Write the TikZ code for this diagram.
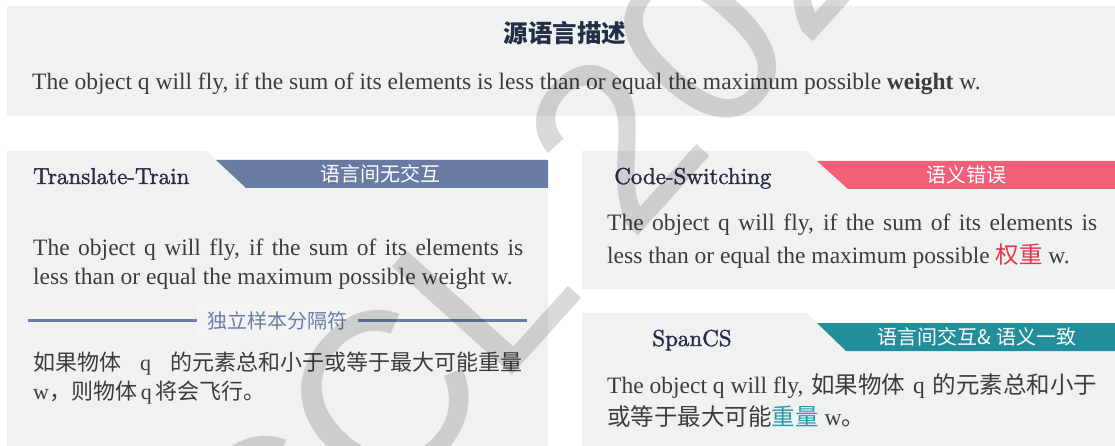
\documentclass[tikz,border=0pt]{standalone}
\usepackage{fontspec}
\usepackage{xcolor}
\newfontfamily\tnr{Liberation Serif}
\newfontfamily\cjk{Noto Sans CJK SC}
\newfontfamily\wmfont{Liberation Sans}
\newfontfamily\titlefont{lmroman10-regular.otf}[FakeBold=1.5]
\definecolor{panel}{HTML}{F0F2F2}
\definecolor{navy}{HTML}{252D47}
\definecolor{body}{HTML}{3C3C3C}
\definecolor{bandblue}{HTML}{6A7BA3}
\definecolor{bandred}{HTML}{F06079}
\definecolor{bandteal}{HTML}{228E9C}
\definecolor{errred}{HTML}{E0384F}
\definecolor{okteal}{HTML}{2A98A8}
\definecolor{sepblue}{HTML}{6C7CA6}
\tikzset{
  bodytext/.style={anchor=base west, inner sep=0pt, text=body, font=\tnr\fontsize{23.5pt}{28pt}\selectfont},
  cjktext/.style={anchor=base west, inner sep=0pt, text=body, font=\fontsize{22pt}{28pt}\selectfont},
  paneltitle/.style={inner sep=0pt, text=navy, font=\titlefont\fontsize{23pt}{26pt}\selectfont},
  bandlabel/.style={inner sep=0pt, text=white, font=\cjk\fontsize{20pt}{24pt}\selectfont},
}
\newcommand{\zh}[1]{{\cjk #1}}
\begin{document}
\begin{tikzpicture}[x=1pt,y=-1pt]
\useasboundingbox (0,0) rectangle (1115,446);
\fill[white] (0,0) rectangle (1115,446);

% top source box
\fill[panel] (7,6) rectangle (1115,116);
\node[inner sep=0pt, text=navy, font=\cjk\bfseries\fontsize{24.5pt}{28pt}\selectfont] (srctitle) at (565,33) {源语言描述};
\node[bodytext] (srctext) at (32,90) {The object q will fly, if the sum of its elements is less than or equal the maximum possible \textbf{weight} w.};

% left panel: Translate-Train
\fill[panel] (7,151) -- (207,151) -- (216,160) -- (548,160) -- (548,446) -- (7,446) -- cycle;
\fill[bandblue] (216,160) -- (548,160) -- (548,188) -- (246,188) -- cycle;
\node[paneltitle, anchor=base west] (tt) at (33,184) {Translate-Train};
\node[bandlabel] (ttband) at (380,174) {语言间无交互};
\node[bodytext] (tt1) at (33,255) {\hbox to 490pt{The object q will fly, if the sum of its elements is}};
\node[bodytext] (tt2) at (33,284) {less than or equal the maximum possible weight w.};
\fill[white, opacity=0.15] (196,304) rectangle (354,338);
\node[inner sep=0pt, text=sepblue, font=\cjk\fontsize{20pt}{24pt}\selectfont] (sep) at (277,321) {独立样本分隔符};
\coordinate (sepL) at (28,320);
\coordinate (sepLe) at (197,320);
\coordinate (sepRs) at (358,320);
\coordinate (sepR) at (527,320);
\draw[sepblue, line width=3pt] (sepL) -- (sepLe);
\draw[sepblue, line width=3pt] (sepRs) -- (sepR);
\node[cjktext] (zh1) at (33,370) {\hbox to 489pt{\zh{如果物体}\hfill{\tnr q}\hfill\zh{的元素总和小于或等于最大可能重量}}};
\node[cjktext] (zh2) at (33,399) {{\tnr w}\zh{，则物体}\,{\tnr q}\,\zh{将会飞行。}};

% right panel 1: Code-Switching
\fill[panel] (582,151) -- (807,151) -- (817,161) -- (1115,161) -- (1115,289) -- (582,289) -- cycle;
\fill[bandred] (817,161) -- (1115,161) -- (1115,189) -- (848,189) -- cycle;
\node[paneltitle, anchor=base west] (cs) at (614,184) {Code-Switching};
\node[bandlabel] (csband) at (966,175) {语义错误};
\node[bodytext] (cs1) at (607,231) {\hbox to 490pt{The object q will fly, if the sum of its elements is}};
\node[bodytext] (cs2) at (607,263) {less than or equal the maximum possible {\cjk\color{errred}权重} w.};

% right panel 2: SpanCS
\fill[panel] (582,313) -- (807,313) -- (817,323) -- (1115,323) -- (1115,446) -- (582,446) -- cycle;
\fill[bandteal] (817,323) -- (1115,323) -- (1115,351) -- (846,351) -- cycle;
\node[paneltitle, anchor=base] (sp) at (692,346) {SpanCS};
\node[bandlabel] (spband) at (977,337) {语言间交互\& 语义一致};
\node[bodytext] (sp1) at (607,393) {\hbox to 490pt{The object q will fly,\hfill\zh{如果物体}\hfill q\hfill\zh{的元素总和小于}}};
\node[bodytext] (sp2) at (607,425) {\zh{或等于最大可能}{\cjk\color{okteal}重量} w\zh{。}};

% watermark
\node[rotate=48, anchor=base west, inner sep=0pt, text=black, text opacity=0.15, font=\wmfont\fontsize{235pt}{235pt}\selectfont] (wm) at (272,642) {CCL 2024};
\end{tikzpicture}
\end{document}
